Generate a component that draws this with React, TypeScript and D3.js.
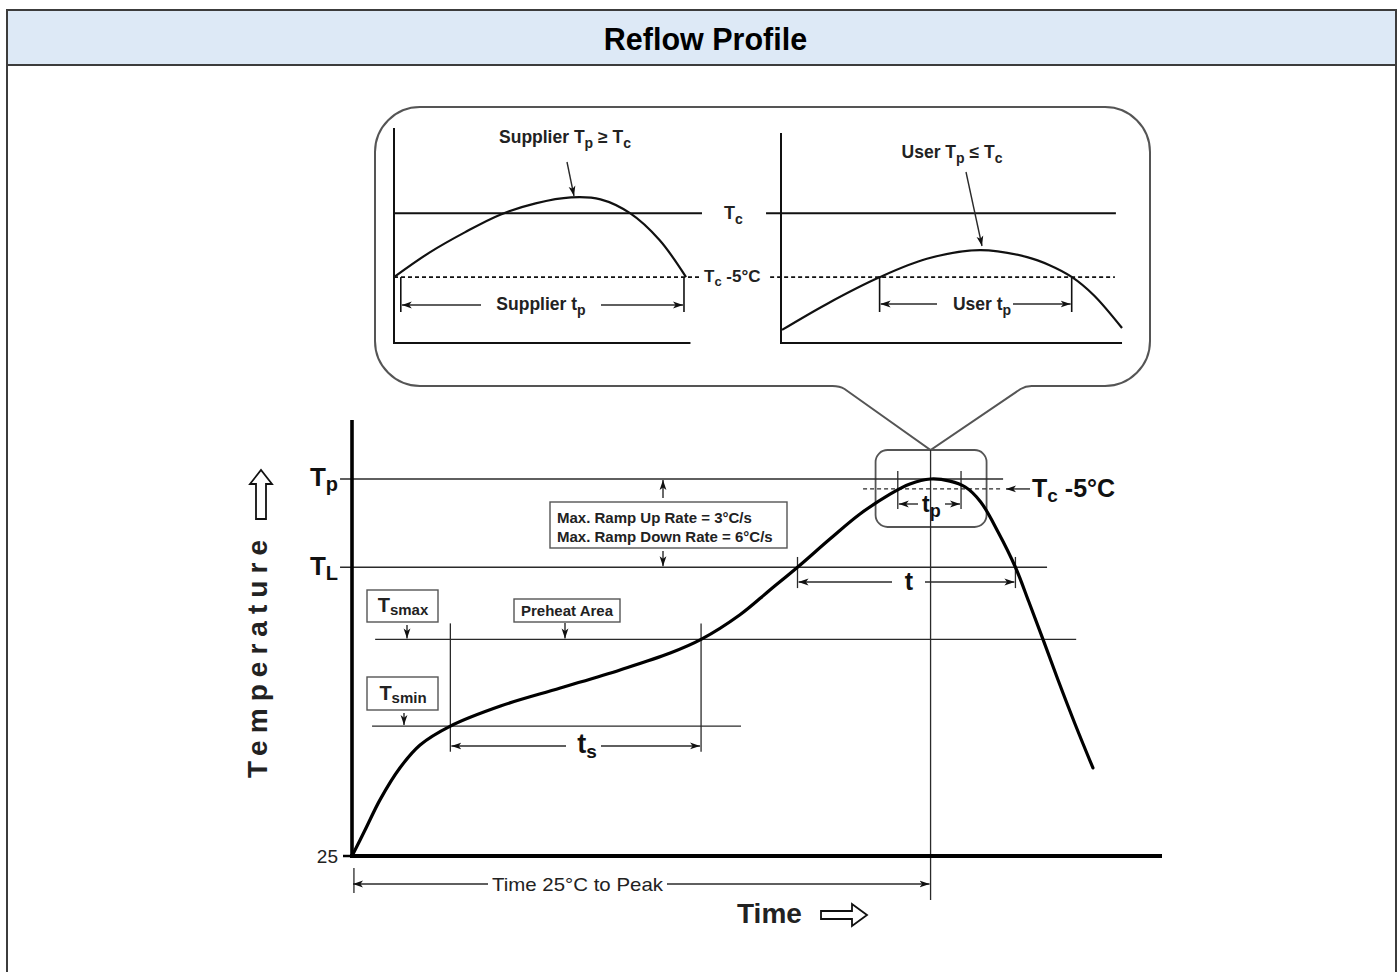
import React from "react";
import * as d3 from "d3";

// ---------- Data ----------
// Main reflow profile: time (s) and temperature (°C)
const profileTime = [0, 6.7, 14.5, 24.9, 35.3, 51, 77, 108, 139, 165, 181, 201, 216.7, 231, 247.8, 263.4, 279, 289.3, 300, 310, 318, 326, 335, 344, 351, 358.3, 366.1, 374.9, 384.2];
const profileTemp = [25, 41, 60, 80, 94.2, 106, 118.5, 129.7, 141, 151.5, 160, 175.2, 190.8, 205, 222.6, 238.2, 250.6, 256.9, 260, 258.7, 255, 245.7, 227, 205, 183.3, 160, 134.7, 107.3, 79.9];

// Reference temperature levels
const levelNames = ["Tp", "TL", "Tsmax", "Tsmin"];
const levelTemps = [260, 205, 160, 106];
const levelStart = [-6.2, -6.2, 12, 10.4];
const levelEnd = [337.6, 360.4, 375.5, 201.7];

// Key times
const tsTimes = [51, 181];
const tLTimes = [231, 344];
const tpTimes = [283, 315.8];
const peakTime = 300;

// Inset curves (relative units 0..100)
const supplierX = [0, 12, 24, 36, 48, 60, 70, 80, 90, 99];
const supplierY = [30, 41.5, 51, 59.3, 64.6, 67.4, 66.5, 60, 47.4, 30];
const userX = [0.3, 13.5, 29.1, 42.9, 58.5, 72.4, 79, 85.6, 92, 100.3];
const userY = [5.2, 17.4, 30, 38.6, 42.7, 39.4, 35.6, 30, 21.5, 6.1];
const insetTc = 60;
const insetTc5 = 30;

const rampLines = ["Max. Ramp Up Rate = 3°C/s", "Max. Ramp Down Rate = 6°C/s"];

// ---------- Scales ----------
const xS = d3.scaleLinear().domain([0, 420]).range([352, 1162]);
const yS = d3.scaleLinear().domain([25, 260]).range([856, 479]);
const leftX = d3.scaleLinear().domain([0, 100]).range([394, 689]);
const rightX = d3.scaleLinear().domain([0, 100]).range([781, 1121]);
const insetY = d3.scaleLinear().domain([0, 100]).range([341, 128]);

const FONT = "'Liberation Sans', Arial, Helvetica, sans-serif";
const INK = "#111";
const THIN = "#2a2a2a";

type Part = [string, boolean];

function SubText(props: {
  x: number; y: number; parts: Part[]; size: number; subSize?: number; shift?: number;
  anchor?: string; weight?: string; fill?: string;
}) {
  const { x, y, parts, size, anchor = "start", weight = "bold", fill = INK } = props;
  const subSize = props.subSize ?? size * 0.75;
  const shift = props.shift ?? size * 0.25;
  let inSub = false;
  return (
    <text x={x} y={y} fontSize={size} fontWeight={weight} fontFamily={FONT} textAnchor={anchor} fill={fill}>
      {parts.map(([s, sub], i) => {
        let dy = 0;
        if (sub && !inSub) dy = shift;
        if (!sub && inSub) dy = -shift;
        inSub = sub;
        return (
          <tspan key={i} dy={dy} fontSize={sub ? subSize : size}>
            {s}
          </tspan>
        );
      })}
    </text>
  );
}

function Arrow({ x1, y1, x2, y2, w = 1.4, color = THIN }: any) {
  return <line x1={x1} y1={y1} x2={x2} y2={y2} stroke={color} strokeWidth={w} markerEnd="url(#ah)" />;
}

export default function App() {
  const profile = profileTime.map((t, i) => [t, profileTemp[i]] as [number, number]);
  const mainLine = d3
    .line<[number, number]>()
    .x((d) => xS(d[0]))
    .y((d) => yS(d[1]))
    .curve(d3.curveCatmullRom.alpha(0.5));

  const supLine = d3
    .line<number>()
    .x((d) => leftX(d))
    .y((_, i) => insetY(supplierY[i]))
    .curve(d3.curveCatmullRom.alpha(0.5));
  const userLine = d3
    .line<number>()
    .x((d) => rightX(d))
    .y((_, i) => insetY(userY[i]))
    .curve(d3.curveCatmullRom.alpha(0.5));

  const px = xS(peakTime);
  const yTp = yS(levelTemps[0]);
  const yTL = yS(levelTemps[1]);
  const yTsmax = yS(levelTemps[2]);
  const yTsmin = yS(levelTemps[3]);

  // callout geometry
  const cb = { x0: 375, y0: 107, x1: 1150, y1: 386, r: 45 };
  const apexY = 450;
  const callout = [
    `M${cb.x0 + cb.r},${cb.y0}`,
    `H${cb.x1 - cb.r}`,
    `A${cb.r},${cb.r} 0 0 1 ${cb.x1},${cb.y0 + cb.r}`,
    `V${cb.y1 - cb.r}`,
    `A${cb.r},${cb.r} 0 0 1 ${cb.x1 - cb.r},${cb.y1}`,
    `H${px + 101}`,
    `Q${px + 95},${cb.y1} ${px + 90},${cb.y1 + 3}`,
    `L${px},${apexY}`,
    `L${px - 86},${cb.y1 + 3}`,
    `Q${px - 91},${cb.y1} ${px - 98},${cb.y1}`,
    `H${cb.x0 + cb.r}`,
    `A${cb.r},${cb.r} 0 0 1 ${cb.x0},${cb.y1 - cb.r}`,
    `V${cb.y0 + cb.r}`,
    `A${cb.r},${cb.r} 0 0 1 ${cb.x0 + cb.r},${cb.y0}`,
    "Z",
  ].join(" ");

  const yInTc = insetY(insetTc);
  const yInTc5 = insetY(insetTc5);

  const tsY = yS(93.6);
  const tY = yS(195.8);
  const tTickTop = yS(211.4);
  const tTickBot = yS(192);

  return (
    <svg
      width={1397}
      height={972}
      viewBox="0 0 1397 972"
      style={{ position: "absolute", left: 0, top: 0, background: "#fff" }}
      fontFamily={FONT}
    >
      <defs>
        <marker id="ah" viewBox="0 0 10 8" refX="10" refY="4" markerWidth="10" markerHeight="8" markerUnits="userSpaceOnUse" orient="auto">
          <path d="M0,0.6 L10,4 L0,7.4 L2.6,4 Z" fill="#111" />
        </marker>
      </defs>

      {/* Frame & header */}
      <rect x={7} y={10} width={1389} height={55} fill="#dde9f6" />
      <line x1={7} y1={10} x2={1397} y2={10} stroke="#3c3c3c" strokeWidth={2} />
      <line x1={7} y1={65} x2={1397} y2={65} stroke="#3c3c3c" strokeWidth={2} />
      <line x1={7} y1={9} x2={7} y2={972} stroke="#3c3c3c" strokeWidth={2} />
      <line x1={1396} y1={9} x2={1396} y2={972} stroke="#3c3c3c" strokeWidth={2} />
      <text x={705.5} y={50} textAnchor="middle" fontSize={30.5} fontWeight="bold" fill="#000">
        Reflow Profile
      </text>

      {/* Callout */}
      <path d={callout} fill="#fff" stroke="#555" strokeWidth={2} />

      {/* Inset left: supplier */}
      <line x1={leftX(0)} y1={128} x2={leftX(0)} y2={344} stroke={INK} strokeWidth={2} />
      <line x1={leftX(0)} y1={343} x2={leftX(100.5)} y2={343} stroke={INK} strokeWidth={2} />
      <line x1={leftX(0)} y1={yInTc} x2={leftX(104.4)} y2={yInTc} stroke={INK} strokeWidth={2} />
      <line x1={leftX(0)} y1={yInTc5} x2={leftX(103.7)} y2={yInTc5} stroke={INK} strokeWidth={1.6} strokeDasharray="4,3" />
      <path d={supLine(supplierX) || ""} fill="none" stroke={INK} strokeWidth={2.2} />
      <line x1={leftX(2.3)} y1={yInTc5} x2={leftX(2.3)} y2={312} stroke={INK} strokeWidth={1.6} />
      <line x1={leftX(98.3)} y1={yInTc5} x2={leftX(98.3)} y2={312} stroke={INK} strokeWidth={1.6} />
      <Arrow x1={481} y1={305} x2={leftX(2.3) + 1} y2={305} />
      <Arrow x1={601} y1={305} x2={leftX(98.3) - 1} y2={305} />
      <SubText x={541} y={310} size={17.5} subSize={14} shift={5} anchor="middle" parts={[["Supplier t", false], ["p", true]]} fill="#222" />
      <SubText
        x={565}
        y={143}
        size={17.5}
        subSize={14}
        shift={5}
        anchor="middle"
        fill="#222"
        parts={[["Supplier T", false], ["p", true], [" ≥ T", false], ["c", true]]}
      />
      <Arrow x1={567} y1={162} x2={574} y2={196} />
      <SubText x={724} y={219} size={18} subSize={14} shift={5} parts={[["T", false], ["c", true]]} fill="#222" />
      <SubText x={704} y={282} size={17} subSize={13} shift={4} parts={[["T", false], ["c", true], [" -5°C", false]]} fill="#222" />

      {/* Inset right: user */}
      <line x1={rightX(0)} y1={133} x2={rightX(0)} y2={344} stroke={INK} strokeWidth={2} />
      <line x1={rightX(0)} y1={343} x2={rightX(100.3)} y2={343} stroke={INK} strokeWidth={2} />
      <line x1={rightX(-4.4)} y1={yInTc} x2={rightX(98.5)} y2={yInTc} stroke={INK} strokeWidth={2} />
      <line x1={rightX(-3.2)} y1={yInTc5} x2={rightX(98.2)} y2={yInTc5} stroke={INK} strokeWidth={1.6} strokeDasharray="4,3" />
      <path d={userLine(userX) || ""} fill="none" stroke={INK} strokeWidth={2.2} />
      <line x1={rightX(29)} y1={yInTc5} x2={rightX(29)} y2={312} stroke={INK} strokeWidth={1.6} />
      <line x1={rightX(85.5)} y1={yInTc5} x2={rightX(85.5)} y2={312} stroke={INK} strokeWidth={1.6} />
      <Arrow x1={937} y1={304} x2={rightX(29) + 1} y2={304} />
      <Arrow x1={1013} y1={304} x2={rightX(85.5) - 1} y2={304} />
      <SubText x={982} y={310} size={17.5} subSize={14} shift={5} anchor="middle" parts={[["User t", false], ["p", true]]} fill="#222" />
      <SubText
        x={952}
        y={158}
        size={17.5}
        subSize={14}
        shift={5}
        anchor="middle"
        fill="#222"
        parts={[["User T", false], ["p", true], [" ≤ T", false], ["c", true]]}
      />
      <Arrow x1={966} y1={172} x2={982} y2={246} />

      {/* Small zoom box at peak */}
      <rect x={px - 55} y={apexY} width={111} height={77} rx={12} ry={12} fill="none" stroke="#555" strokeWidth={1.8} />

      {/* Level lines */}
      {levelTemps.map((T, i) => (
        <line key={levelNames[i]} x1={xS(levelStart[i])} y1={yS(T)} x2={xS(levelEnd[i])} y2={yS(T)} stroke={THIN} strokeWidth={1.3} />
      ))}

      {/* Tc -5 dashed in small box */}
      <line x1={xS(265)} y1={yS(253.8)} x2={xS(337.6)} y2={yS(253.8)} stroke={THIN} strokeWidth={1.3} strokeDasharray="4,3" />
      <Arrow x1={1030} y1={yS(253.8)} x2={1006} y2={yS(253.8)} />
      <SubText x={1032} y={497} size={25} subSize={19} shift={5} parts={[["T", false], ["c", true], [" -5°C", false]]} />

      {/* tp markers */}
      {tpTimes.map((t) => (
        <line key={t} x1={xS(t)} y1={471} x2={xS(t)} y2={509} stroke={THIN} strokeWidth={1.3} />
      ))}
      <Arrow x1={918} y1={504} x2={xS(tpTimes[0]) + 1} y2={504} />
      <Arrow x1={945} y1={504} x2={xS(tpTimes[1]) - 1} y2={504} />
      <SubText x={922} y={512} size={23} subSize={18} shift={5} parts={[["t", false], ["p", true]]} />

      {/* Peak vertical */}
      <line x1={px} y1={apexY} x2={px} y2={900} stroke={THIN} strokeWidth={1.3} />

      {/* ts */}
      {tsTimes.map((t) => (
        <line key={t} x1={xS(t)} y1={yS(170)} x2={xS(t)} y2={yS(90)} stroke={THIN} strokeWidth={1.3} />
      ))}
      <Arrow x1={566} y1={tsY} x2={xS(tsTimes[0]) + 1} y2={tsY} />
      <Arrow x1={601} y1={tsY} x2={xS(tsTimes[1]) - 1} y2={tsY} />
      <SubText x={587} y={753} size={27} subSize={19} shift={5} anchor="middle" parts={[["t", false], ["s", true]]} />

      {/* t (above liquidus) */}
      {tLTimes.map((t) => (
        <line key={t} x1={xS(t)} y1={tTickTop} x2={xS(t)} y2={tTickBot} stroke={THIN} strokeWidth={1.3} />
      ))}
      <Arrow x1={892} y1={tY} x2={xS(tLTimes[0]) + 1} y2={tY} />
      <Arrow x1={925} y1={tY} x2={xS(tLTimes[1]) - 1} y2={tY} />
      <text x={909} y={590} textAnchor="middle" fontSize={25} fontWeight="bold" fill={INK}>
        t
      </text>

      {/* Ramp box */}
      <rect x={550} y={502} width={237} height={46} fill="#fff" stroke="#555" strokeWidth={1.4} />
      {rampLines.map((s, i) => (
        <text key={s} x={557} y={523 + i * 18.5} fontSize={15} fontWeight="bold" fill="#222">
          {s}
        </text>
      ))}
      <Arrow x1={663} y1={498} x2={663} y2={yTp + 1} />
      <Arrow x1={663} y1={551} x2={663} y2={yTL - 1} />

      {/* Preheat area */}
      <rect x={514} y={599} width={106} height={23} fill="#fff" stroke="#555" strokeWidth={1.4} />
      <text x={567} y={616} textAnchor="middle" fontSize={15} fontWeight="bold" fill="#222">
        Preheat Area
      </text>
      <Arrow x1={565} y1={623} x2={565} y2={yTsmax - 1} />

      {/* Tsmax / Tsmin boxes */}
      <rect x={367} y={590} width={71} height={32} fill="#fff" stroke="#555" strokeWidth={1.4} />
      <SubText x={403} y={612} size={20} subSize={15} shift={3} anchor="middle" parts={[["T", false], ["smax", true]]} fill="#222" />
      <Arrow x1={407} y1={625} x2={407} y2={yTsmax - 1} />
      <rect x={367} y={677} width={71} height={33} fill="#fff" stroke="#555" strokeWidth={1.4} />
      <SubText x={403} y={700} size={20} subSize={15} shift={3} anchor="middle" parts={[["T", false], ["smin", true]]} fill="#222" />
      <Arrow x1={404} y1={713} x2={404} y2={yTsmin - 1} />

      {/* Profile curve */}
      <path d={mainLine(profile) || ""} fill="none" stroke="#000" strokeWidth={3.2} strokeLinecap="round" />

      {/* Axes */}
      <line x1={xS(0)} y1={420} x2={xS(0)} y2={858} stroke="#000" strokeWidth={3.6} />
      <line x1={xS(0) - 2} y1={yS(25)} x2={xS(420)} y2={yS(25)} stroke="#000" strokeWidth={4} />
      <line x1={xS(0) - 9} y1={yS(25)} x2={xS(0)} y2={yS(25)} stroke="#000" strokeWidth={2.5} />
      <text x={338} y={863} textAnchor="end" fontSize={19} fill="#222">
        25
      </text>

      {/* Level labels */}
      <SubText x={338} y={486} size={26} subSize={20} shift={5} anchor="end" parts={[["T", false], ["p", true]]} />
      <SubText x={338} y={575} size={26} subSize={20} shift={5} anchor="end" parts={[["T", false], ["L", true]]} />

      {/* Time 25°C to peak */}
      <line x1={xS(1)} y1={868} x2={xS(1)} y2={893} stroke={THIN} strokeWidth={1.3} />
      <Arrow x1={488} y1={884} x2={xS(0) + 1} y2={884} />
      <Arrow x1={667} y1={884} x2={px - 1} y2={884} />
      <text x={577.5} y={891} textAnchor="middle" fontSize={19} fill="#222" textLength={171} lengthAdjust="spacingAndGlyphs">
        Time 25°C to Peak
      </text>

      {/* Axis titles */}
      <text x={737} y={923} fontSize={28} fontWeight="bold" fill="#222">
        Time
      </text>
      <path
        d="M821,911 H852 V904 L867,915 L852,926 V919 H821 Z"
        fill="#fff"
        stroke="#111"
        strokeWidth={1.8}
        strokeLinejoin="miter"
      />
      <text
        transform="translate(267,659) rotate(-90)"
        textAnchor="middle"
        fontSize={28}
        fontWeight="bold"
        fill="#222"
        textLength={238}
        lengthAdjust="spacing"
      >
        Temperature
      </text>
      <path
        d="M256,519 V484 H250 L261,470 L272,484 H266 V519 Z"
        fill="#fff"
        stroke="#111"
        strokeWidth={1.8}
      />
    </svg>
  );
}
